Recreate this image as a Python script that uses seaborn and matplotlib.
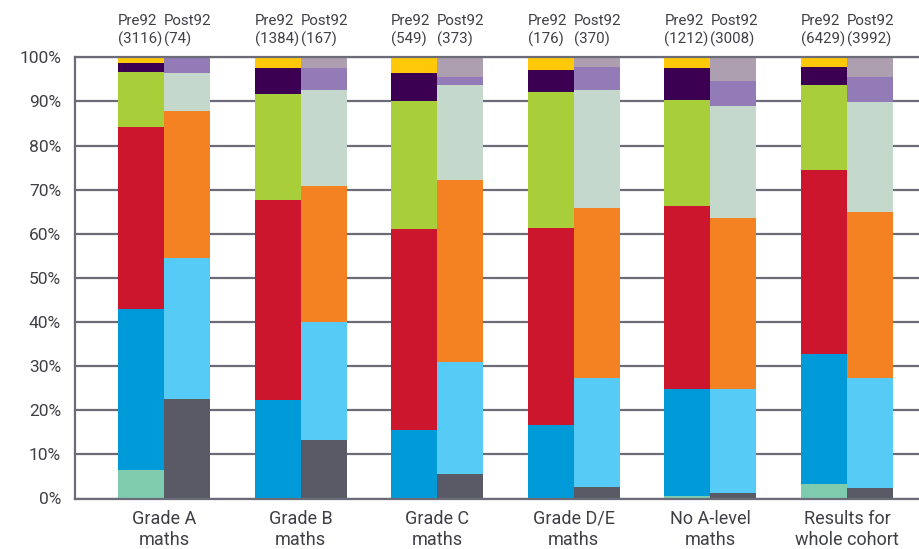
import matplotlib
matplotlib.use("Agg")
import matplotlib.pyplot as plt
import matplotlib.transforms as mtransforms
import pandas as pd
import seaborn as sns

# ---------------- data ----------------
groups = ["Grade A\nmaths", "Grade B\nmaths", "Grade C\nmaths",
          "Grade D/E\nmaths", "No A-level\nmaths", "Results for\nwhole cohort"]
periods = ["Pre92", "Post92"]
pre_n = [3116, 1384, 549, 176, 1212, 6429]
post_n = [74, 167, 373, 370, 3008, 3992]

# Pre92 segments, bottom -> top (%)
pre_seg1 = [6.4, 0.0, 0.0, 0.0, 0.5, 3.2]
pre_seg2 = [36.5, 22.3, 15.5, 16.6, 24.3, 29.5]
pre_seg3 = [41.3, 45.3, 45.6, 44.7, 41.5, 41.7]
pre_seg4 = [12.5, 24.1, 28.9, 30.8, 24.0, 19.3]
pre_seg5 = [2.0, 5.9, 6.4, 5.0, 7.3, 4.1]
pre_seg6 = [1.3, 2.4, 3.6, 2.9, 2.4, 2.2]

# Post92 segments, bottom -> top (%)
post_seg1 = [22.5, 13.2, 5.5, 2.6, 1.2, 2.3]
post_seg2 = [32.0, 26.8, 25.5, 24.7, 23.6, 25.0]
post_seg3 = [33.3, 30.8, 41.2, 38.5, 38.8, 37.6]
post_seg4 = [8.6, 21.8, 21.5, 26.8, 25.4, 25.0]
post_seg5 = [3.6, 5.0, 1.8, 5.2, 5.6, 5.6]
post_seg6 = [0.0, 2.4, 4.5, 2.2, 5.4, 4.5]

pre_colors = ["#7fcbad", "#009ad9", "#cc162e", "#a8cf3a", "#3c0052", "#ffc90a"]
post_colors = ["#5a5a66", "#56cbf6", "#f48222", "#c5d8cc", "#937bb7", "#ad9fb0"]

pre_segs = [pre_seg1, pre_seg2, pre_seg3, pre_seg4, pre_seg5, pre_seg6]
post_segs = [post_seg1, post_seg2, post_seg3, post_seg4, post_seg5, post_seg6]

# ---------------- style ----------------
sns.set_theme(style="white")
plt.rcParams["font.family"] = ["Roboto", "DejaVu Sans"]
TXT = "#3f3f46"
LINE = "#6c6c78"

fig = plt.figure(figsize=(9.19, 5.49), dpi=100)
ax = fig.add_axes([75 / 919, 1 - 498.5 / 549, 1 - 75 / 919, (498.5 - 57.3) / 549])

# cumulative tops for each layer
rows = []
for k in range(6):
    cpre = [sum(s[i] for s in pre_segs[:k + 1]) for i in range(len(groups))]
    cpost = [sum(s[i] for s in post_segs[:k + 1]) for i in range(len(groups))]
    for i, g in enumerate(groups):
        rows.append({"layer": k, "group": g, "period": "Pre92", "top": cpre[i]})
        rows.append({"layer": k, "group": g, "period": "Post92", "top": cpost[i]})
df = pd.DataFrame(rows)

bar_total_width = 0.673
for k in reversed(range(6)):
    sub = df[df["layer"] == k]
    sns.barplot(data=sub, x="group", y="top", hue="period",
                order=groups, hue_order=periods,
                palette={"Pre92": pre_colors[k], "Post92": post_colors[k]},
                width=bar_total_width, dodge=True, saturation=1,
                linewidth=0, errorbar=None, legend=False, ax=ax)

ax.set_xlim(-0.6515, 5.527)
ax.set_ylim(0, 100)
ax.set_yticks(range(0, 101, 10))
ax.set_yticklabels([f"{v}%" for v in range(0, 101, 10)])
ax.set_xlabel("")
ax.set_ylabel("")
ax.set_axisbelow(True)
ax.yaxis.grid(True, color=LINE, linewidth=1.6)
ax.xaxis.grid(False)
for side in ["left", "top", "bottom"]:
    ax.spines[side].set_visible(True)
    ax.spines[side].set_color(LINE)
    ax.spines[side].set_linewidth(1.6)
ax.spines["right"].set_visible(False)
ax.tick_params(axis="y", length=0, pad=10, labelsize=12.5, labelcolor=TXT)
ax.tick_params(axis="x", length=0, pad=8, labelsize=13, labelcolor=TXT)
for lab in ax.get_xticklabels():
    lab.set_linespacing(1.25)

# top labels: period name + count, left aligned at each bar's left edge
trans = mtransforms.blended_transform_factory(ax.transData, fig.transFigure)
half = bar_total_width / 2
for i in range(len(groups)):
    for j, (name, n) in enumerate([("Pre92", pre_n[i]), ("Post92", post_n[i])]):
        x_left = i - half + j * half
        ax.text(x_left, 1 - 25 / 549, name, transform=trans, ha="left",
                va="baseline", fontsize=10.8, color=TXT, clip_on=False)
        ax.text(x_left, 1 - 43.5 / 549, f"({n})", transform=trans, ha="left",
                va="baseline", fontsize=10.8, color=TXT, clip_on=False)

fig.savefig("out.png", dpi=100)
